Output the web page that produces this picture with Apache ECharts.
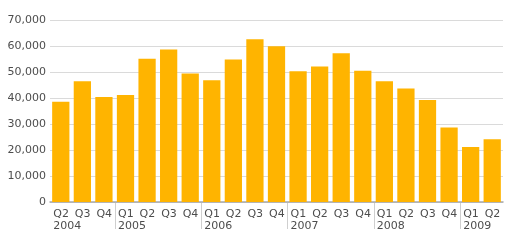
<!DOCTYPE html>
<html><head><meta charset="utf-8">
<script src="https://cdn.jsdelivr.net/npm/echarts@6/dist/echarts.min.js"></script>
<style>html,body{margin:0;padding:0;background:#fff}#c{width:508px;height:246px}</style>
</head><body><div id="c"></div>
<script>
const quarters = ['Q2','Q3','Q4','Q1','Q2','Q3','Q4','Q1','Q2','Q3','Q4','Q1','Q2','Q3','Q4','Q1','Q2','Q3','Q4','Q1','Q2'];
const years =    ['2004','','','2005','','','','2006','','','','2007','','','','2008','','','','2009',''];
const values = [38600,46400,40400,41200,55100,58700,49400,46800,54800,62600,59900,50300,52100,57200,50500,46400,43700,39200,28700,21200,24100];
const yTicks = {min:0, max:70000, interval:10000};

const cats = quarters.map((q,i)=> years[i] ? q+'\n'+years[i] : q);
const yearStarts = years.map((y,i)=> (y && i>0) ? [i,0] : null).filter(Boolean);

const chart = echarts.init(document.getElementById('c'));
chart.setOption({
  animation:false,
  grid:{left:50,right:5,top:20,bottom:44},
  xAxis:{
    type:'category', data:cats, boundaryGap:true,
    axisLine:{lineStyle:{color:'#a8a8a8',width:1.5}},
    axisTick:{show:false},
    axisLabel:{interval:0, align:'center', margin:6, color:'#4d4d4d', fontSize:11,
      fontFamily:'DejaVu Sans', lineHeight:12,
      formatter:(v)=>'{a|'+v.replace('\n','}\n{a|')+'}',
      rich:{a:{width:15, align:'left', fontSize:11, fontFamily:'DejaVu Sans', color:'#4d4d4d', lineHeight:12}}}
  },
  yAxis:{type:'value', min:yTicks.min, max:yTicks.max, interval:yTicks.interval,
    axisLine:{show:false}, axisTick:{show:false},
    splitLine:{lineStyle:{color:'#dadada'}},
    axisLabel:{margin:4, color:'#4d4d4d', fontSize:11, fontFamily:'DejaVu Sans',
      formatter:(v)=>v.toLocaleString('en-US')}
  },
  series:[{type:'bar', data:values, barCategoryGap:'20%',
    itemStyle:{color:'#FFB400'}},
  {type:'custom', data:yearStarts, clip:false, silent:true, z:1,
    renderItem:(params, api)=>{
      const p = api.coord([api.value(0), api.value(1)]);
      const half = api.size([1,0])[0]/2;
      const x = Math.round(p[0]-half)+0.5;
      return {type:'line', shape:{x1:x,y1:p[1]+1,x2:x,y2:p[1]+27},
        style:{stroke:'#cfcfcf', lineWidth:1}};
    }}]
});
</script></body></html>
